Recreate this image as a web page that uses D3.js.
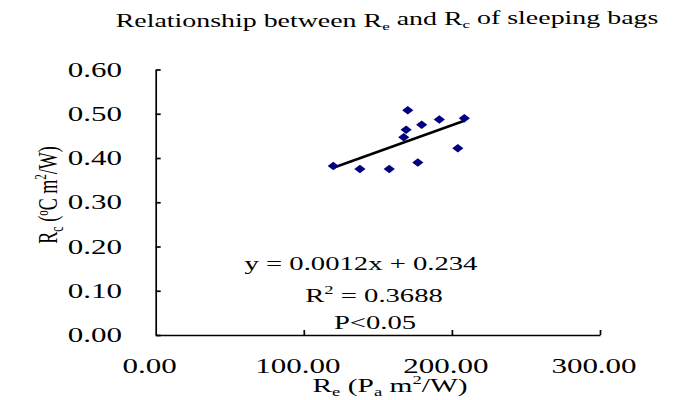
<!DOCTYPE html>
<html>
<head>
<meta charset="utf-8">
<script src="https://cdn.jsdelivr.net/npm/d3@7"></script>
<style>
  body { margin: 0; background: #fff; }
  text { font-family: "Liberation Serif", "Times New Roman", serif; fill: #000; }
</style>
</head>
<body>
<div id="chart"></div>
<script>
// Re vs Rc
var reVals = [119.9, 137.9, 157.7, 170.2, 169.1, 167.5, 179.6, 177.0, 191.5, 208.4, 204.0];
var rcVals = [0.382, 0.375, 0.375, 0.508, 0.464, 0.447, 0.475, 0.390, 0.487, 0.490, 0.422];
var xTicks = [0, 100, 200, 300];
var yTicks = [0, 0.1, 0.2, 0.3, 0.4, 0.5, 0.6];
var slope = 0.0012, intercept = 0.234;
var eqLines = ["y = 0.0012x + 0.234", "R2 = 0.3688", "P<0.05"];

var S = 1.55; // the original picture is stretched sideways

var svg = d3.select("#chart").append("svg")
    .attr("width", 678)
    .attr("height", 400);

var x = d3.scaleLinear().domain([0, 300]).range([155.7, 600]);
var y = d3.scaleLinear().domain([0, 0.6]).range([335, 69.5]);

// axes
svg.append("g")
    .attr("transform", "translate(" + x(0) + ",0)")
    .call(d3.axisLeft(y).tickValues(yTicks).tickSizeInner(-5).tickSizeOuter(0).tickFormat(""))
    .call(function(g) { g.selectAll("line, path").attr("stroke", "#000").attr("stroke-width", 1.7); });

svg.append("g")
    .attr("transform", "translate(0," + y(0) + ")")
    .call(d3.axisBottom(x).tickValues(xTicks.slice(1)).tickSizeInner(-5).tickSizeOuter(0).tickFormat(""))
    .call(function(g) { g.selectAll("line, path").attr("stroke", "#000").attr("stroke-width", 1.7); });

// tick labels
svg.append("g").selectAll("text")
    .data(yTicks)
  .enter().append("text")
    .attr("transform", function(d) { return "translate(122," + (y(d) + 7) + ") scale(" + S + ",1)"; })
    .attr("text-anchor", "end")
    .style("font-size", "20px")
    .text(function(d) { return d.toFixed(2); });

svg.append("g").selectAll("text")
    .data(xTicks)
  .enter().append("text")
    .attr("transform", function(d) { return "translate(" + (x(d) - 6) + ",373) scale(" + S + ",1)"; })
    .attr("text-anchor", "middle")
    .style("font-size", "20px")
    .text(function(d) { return d.toFixed(2); });

// trend line
var xr = d3.extent(reVals);
svg.append("line")
    .attr("x1", x(xr[0])).attr("y1", y(slope * xr[0] + intercept))
    .attr("x2", x(xr[1])).attr("y2", y(slope * xr[1] + intercept))
    .attr("stroke", "#000")
    .attr("stroke-width", 2.5);

// points
svg.append("g").selectAll("path")
    .data(reVals)
  .enter().append("path")
    .attr("d", "M0,-4.2L5.6,0L0,4.2L-5.6,0Z")
    .attr("transform", function(d, i) { return "translate(" + x(d) + "," + y(rcVals[i]) + ")"; })
    .attr("fill", "#000080");

// title
var title = svg.append("text")
    .attr("transform", "translate(387,27) scale(" + S + ",1)")
    .attr("text-anchor", "middle")
    .style("font-size", "18px");
title.append("tspan").text("Relationship between R");
title.append("tspan").attr("dy", "0.25em").style("font-size", "11px").text("e");
title.append("tspan").attr("dy", "-0.25em").text(" and R");
title.append("tspan").attr("dy", "0.25em").style("font-size", "11px").text("c");
title.append("tspan").attr("dy", "-0.25em").text(" of sleeping bags");

// x axis title
var xt = svg.append("text")
    .attr("transform", "translate(390,392) scale(" + S + ",1)")
    .attr("text-anchor", "middle")
    .style("font-size", "19px");
xt.append("tspan").text("R");
xt.append("tspan").attr("dy", 4).style("font-size", "12px").text("e");
xt.append("tspan").attr("dy", -4).text(" (P");
xt.append("tspan").attr("dy", 4).style("font-size", "12px").text("a");
xt.append("tspan").attr("dy", -4).text(" m");
xt.append("tspan").attr("dy", -8).style("font-size", "12px").text("2");
xt.append("tspan").attr("dy", 8).text("/W)");

// y axis title
var yt = svg.append("text")
    .attr("transform", "translate(57,195) rotate(-90) scale(1," + S + ")")
    .attr("text-anchor", "middle")
    .style("font-size", "18px");
yt.append("tspan").text("R");
yt.append("tspan").attr("dy", 4).style("font-size", "12px").text("c");
yt.append("tspan").attr("dy", -4).text(" (");
yt.append("tspan").attr("dy", -6).style("font-size", "11px").text("o");
yt.append("tspan").attr("dy", 6).text("C m");
yt.append("tspan").attr("dy", -7).style("font-size", "11px").text("2");
yt.append("tspan").attr("dy", 7).text("/W)");

// equation box
svg.append("text")
    .attr("transform", "translate(361,270) scale(" + S + ",1)")
    .attr("text-anchor", "middle")
    .style("font-size", "18.5px")
    .text(eqLines[0]);

var eq2 = svg.append("text")
    .attr("transform", "translate(374,302) scale(" + S + ",1)")
    .attr("text-anchor", "middle")
    .style("font-size", "18.5px");
eq2.append("tspan").text("R");
eq2.append("tspan").attr("dy", -8).style("font-size", "12px").text("2");
eq2.append("tspan").attr("dy", 8).text(eqLines[1].slice(2));

svg.append("text")
    .attr("transform", "translate(375,329) scale(" + S + ",1)")
    .attr("text-anchor", "middle")
    .style("font-size", "18.5px")
    .text(eqLines[2]);
</script>
</body>
</html>
